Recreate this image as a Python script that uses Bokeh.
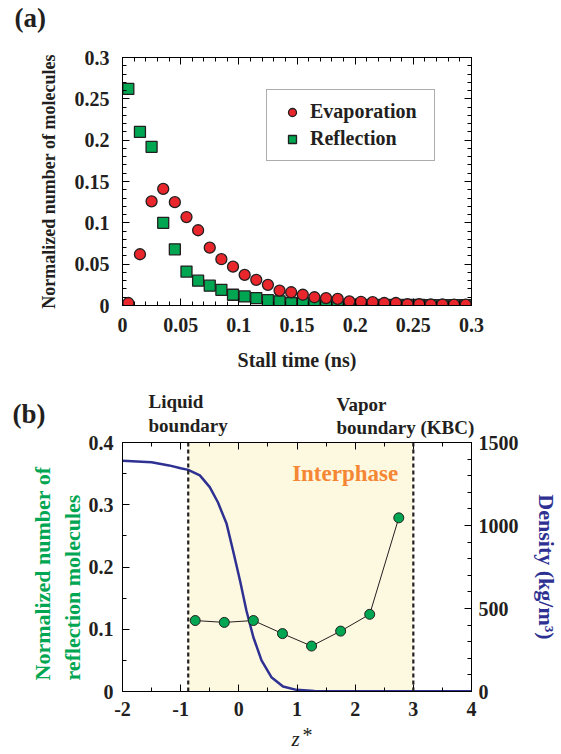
import math
from bokeh.plotting import figure
from bokeh.models import (Range1d, LinearAxis, SingleIntervalTicker, FixedTicker, Legend,
                          LegendItem, Label, BoxAnnotation, Span)
from bokeh.layouts import column
from bokeh.embed import file_html
from bokeh.resources import INLINE

# ---------------- data: panel (a) ----------------
stall_time = [0.005, 0.015, 0.025, 0.035, 0.045, 0.055, 0.065, 0.075, 0.085, 0.095,
              0.105, 0.115, 0.125, 0.135, 0.145, 0.155, 0.165, 0.175, 0.185, 0.195,
              0.205, 0.215, 0.225, 0.235, 0.245, 0.255, 0.265, 0.275, 0.285, 0.295]
evaporation = [0.003, 0.062, 0.126, 0.141, 0.125, 0.107, 0.091, 0.070, 0.056, 0.047,
               0.037, 0.031, 0.025, 0.018, 0.016, 0.013, 0.010, 0.009, 0.008, 0.005,
               0.0045, 0.004, 0.003, 0.003, 0.0015, 0.0015, 0.0012, 0.0012, 0.001, 0.001]
reflection = [0.262, 0.210, 0.192, 0.100, 0.068, 0.041, 0.030, 0.024, 0.019, 0.013,
              0.011, 0.009, 0.0065, 0.005, 0.003, 0.003, 0.002, 0.0012, 0.001, 0.0008,
              0.0008, 0.0008, 0.0007, 0.0007, 0.0006, 0.0006, 0.0005, 0.0005, 0.0005, 0.0005]
ticks_a = [0, 0.05, 0.1, 0.15, 0.2, 0.25, 0.3]

# ---------------- data: panel (b) ----------------
z_refl = [-0.75, -0.25, 0.25, 0.75, 1.25, 1.75, 2.25, 2.75]
refl_b = [0.114, 0.111, 0.114, 0.093, 0.073, 0.097, 0.124, 0.279]
z_dens = [-2.0, -1.5, -1.2, -1.0, -0.87, -0.67, -0.5, -0.36, -0.21, -0.1, 0.02, 0.13,
          0.25, 0.39, 0.56, 0.76, 0.99, 1.3, 2.0, 3.0, 4.0]
density = [1390, 1381, 1362, 1345, 1335, 1302, 1231, 1140, 1010, 849, 669, 488,
           327, 187, 86, 30, 10, 3, 2, 2, 2]
ticks_b = [-2, -1, 0, 1, 2, 3, 4]
tick_labels_b = ["-2", "-1", "0", "1", "2", "3", "4"]
liquid_boundary = -0.87
vapor_boundary = 3.0

FONT = "Liberation Serif"
TXT = "#231f20"
RED = "#e8262b"
GREEN = "#00a651"
BLUE = "#2e3192"
ORANGE = "#f58634"
SHADE = "#fdf9e0"

minor_a = [round(0.01 * i, 2) for i in range(31)]
minor_b = [-2 + 0.5 * i for i in range(13)]


def style_axis(ax, size="20px", standoff=10, labels=True):
    ax.axis_line_color = "black"
    ax.axis_line_width = 1
    ax.major_tick_in = 7
    ax.major_tick_out = 0
    ax.minor_tick_in = 4
    ax.minor_tick_out = 0
    ax.major_tick_line_color = "black"
    ax.minor_tick_line_color = "black"
    ax.major_label_text_font = FONT
    ax.major_label_text_font_style = "bold"
    ax.major_label_standoff = standoff
    if labels:
        ax.major_label_text_font_size = size
        ax.major_label_text_color = TXT
    else:
        ax.major_label_text_font_size = "1px"
        ax.major_label_text_color = None
    ax.axis_label_text_font = FONT
    ax.axis_label_text_font_style = "bold"
    ax.axis_label_text_color = TXT


# ================= panel (a) =================
pa = figure(width=561, height=385, output_backend="svg", toolbar_location=None,
            x_range=Range1d(0, 0.3), y_range=Range1d(0, 0.3),
            min_border_left=121, min_border_right=89, min_border_top=57, min_border_bottom=80,
            x_axis_location=None, y_axis_location=None)
pa.xgrid.visible = False
pa.ygrid.visible = False
pa.outline_line_color = "black"
pa.background_fill_color = "white"
pa.border_fill_color = "white"

xa = LinearAxis(ticker=FixedTicker(ticks=ticks_a, minor_ticks=minor_a),
                axis_label="Stall time (ns)")
style_axis(xa, standoff=12)
xa.axis_label_text_font_size = "20px"
xa.axis_label_standoff = 14
pa.add_layout(xa, "below")
xa_top = LinearAxis(ticker=FixedTicker(ticks=ticks_a, minor_ticks=minor_a))
style_axis(xa_top, labels=False)
pa.add_layout(xa_top, "above")

ya = LinearAxis(ticker=FixedTicker(ticks=ticks_a, minor_ticks=minor_a),
                axis_label="Normalized number of molecules")
style_axis(ya, standoff=13)
ya.axis_label_text_font_size = "18px"
ya.axis_label_standoff = 13
pa.add_layout(ya, "left")
ya_r = LinearAxis(ticker=FixedTicker(ticks=ticks_a, minor_ticks=minor_a))
style_axis(ya_r, labels=False)
pa.add_layout(ya_r, "right")

r_ref = pa.scatter(stall_time, reflection, marker="square", size=11,
                   fill_color=GREEN, line_color="#231f20", line_width=1.3)
r_eva = pa.scatter(stall_time, evaporation, marker="circle", size=11,
                   fill_color=RED, line_color="#231f20", line_width=1.3)

legend = Legend(items=[LegendItem(label="Evaporation", renderers=[r_eva]),
                       LegendItem(label="Reflection", renderers=[r_ref])],
                location=(144, 144), padding=10, margin=0, spacing=4,
                glyph_width=30, glyph_height=20, label_height=20, label_width=114,
                label_standoff=3,
                label_text_font=FONT, label_text_font_style="bold",
                label_text_font_size="20px", label_text_color=TXT,
                border_line_color="#58595b", border_line_width=1.2,
                background_fill_color="white", background_fill_alpha=1)
pa.add_layout(legend, "center")

# ================= panel (b) =================
pb = figure(width=561, height=369, output_backend="svg", toolbar_location=None,
            x_range=Range1d(-2, 4), y_range=Range1d(0, 0.4),
            min_border_left=122, min_border_right=89, min_border_top=57, min_border_bottom=63,
            x_axis_location=None, y_axis_location=None)
pb.extra_y_ranges = {"dens": Range1d(0, 1500)}
pb.xgrid.visible = False
pb.ygrid.visible = False
pb.outline_line_color = "black"
pb.background_fill_color = "white"
pb.border_fill_color = "white"

pb.add_layout(BoxAnnotation(left=liquid_boundary, right=vapor_boundary,
                            fill_color=SHADE, fill_alpha=1, line_color=None,
                            level="underlay"))

xb = LinearAxis(ticker=FixedTicker(ticks=ticks_b, minor_ticks=minor_b))
style_axis(xb, standoff=10)
xb.major_label_overrides = {t: s for t, s in zip(ticks_b, tick_labels_b)}
pb.add_layout(xb, "below")
xb_top = LinearAxis(ticker=FixedTicker(ticks=ticks_b, minor_ticks=minor_b))
style_axis(xb_top, labels=False)
pb.add_layout(xb_top, "above")

yb = LinearAxis(ticker=SingleIntervalTicker(interval=0.1, num_minor_ticks=2))
style_axis(yb, standoff=9)
pb.add_layout(yb, "left")

yb_r = LinearAxis(y_range_name="dens",
                  ticker=SingleIntervalTicker(interval=500, num_minor_ticks=5),
                  axis_label="Density (kg/m\u00b3)")
style_axis(yb_r, standoff=7)
yb_r.axis_label_text_font_size = "22px"
yb_r.axis_label_text_color = BLUE
yb_r.axis_label_standoff = 12
pb.add_layout(yb_r, "right")

for loc in (liquid_boundary, vapor_boundary):
    pb.add_layout(Span(location=loc, dimension="height", line_color=TXT,
                       line_width=2.2, line_dash="4 3"))

pb.line(z_dens, density, y_range_name="dens", line_color=BLUE, line_width=2.5)
pb.line(z_refl, refl_b, line_color=TXT, line_width=1)
pb.scatter(z_refl, refl_b, marker="circle", size=10, fill_color=GREEN,
           line_color=TXT, line_width=1)

pb.add_layout(Label(x=1.828, y=0.351, text="Interphase", text_font=FONT,
                    text_font_style="bold", text_font_size="23px", text_color=ORANGE,
                    text_align="center", text_baseline="middle"))

# ====== transparent text layer over the whole page (pixel coordinates) ======
ov = figure(width=561, height=754, output_backend="svg", toolbar_location=None,
            title=None, x_range=Range1d(0, 561), y_range=Range1d(754, 0),
            min_border=0, x_axis_location=None, y_axis_location=None,
            frame_align=False, styles={"margin-top": "-754px"})
ov.xgrid.visible = False
ov.ygrid.visible = False
ov.outline_line_color = None
ov.background_fill_color = None
ov.border_fill_color = None

lbl = dict(text_font=FONT, text_font_style="bold", text_color=TXT,
           text_baseline="middle", text_align="left")
ov.add_layout(Label(x=14, y=17, text="(a)", text_font_size="27px", **lbl))
ov.add_layout(Label(x=12, y=413, text="(b)", text_font_size="27px", **lbl))
ov.add_layout(Label(x=148, y=400.5, text="Liquid", text_font_size="19px", **lbl))
ov.add_layout(Label(x=148, y=424.5, text="boundary", text_font_size="19px", **lbl))
ov.add_layout(Label(x=336, y=403.5, text="Vapor", text_font_size="19px", **lbl))
ov.add_layout(Label(x=336, y=426.5, text="boundary (KBC)", text_font_size="19px", **lbl))
ov.add_layout(Label(x=42, y=680, text="Normalized number of", angle=math.pi / 2,
                    text_font=FONT, text_font_style="bold", text_font_size="22px",
                    text_color=GREEN, text_align="left", text_baseline="middle"))
ov.add_layout(Label(x=72, y=680, text="reflection molecules", angle=math.pi / 2,
                    text_font=FONT, text_font_style="bold", text_font_size="22px",
                    text_color=GREEN, text_align="left", text_baseline="middle"))
ov.add_layout(Label(x=291, y=738, text="z", text_font=FONT, text_font_style="italic",
                    text_font_size="21px", text_color=TXT, text_align="left",
                    text_baseline="middle"))
ov.add_layout(Label(x=302, y=734, text="*", text_font=FONT, text_font_size="20px",
                    text_color=TXT, text_align="left", text_baseline="middle"))

layout = column(pa, pb, ov)
open("out.html", "w").write(file_html(layout, INLINE))
